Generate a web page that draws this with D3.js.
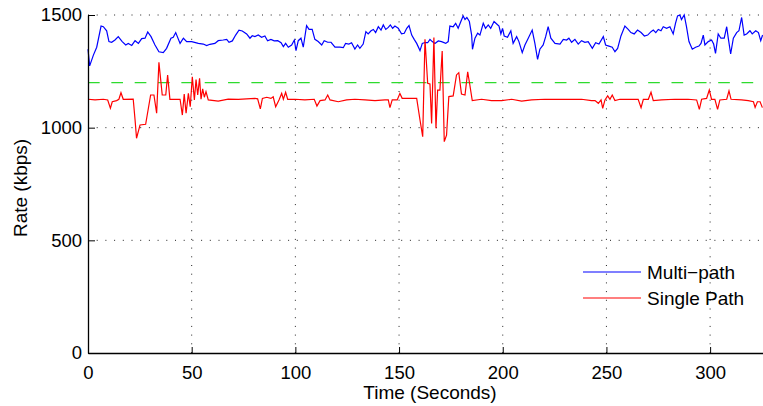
<!DOCTYPE html>
<html>
<head>
<meta charset="utf-8">
<script src="https://cdn.jsdelivr.net/npm/d3@7"></script>
<style>
  body { margin: 0; background: #fff; }
  text { font-family: "Liberation Sans", Arial, sans-serif; }
</style>
</head>
<body>
<script>
// chart size
var w = 763, h = 406;

// x ticks / y ticks
var xTicks = [0, 50, 100, 150, 200, 250, 300];
var yTicks = [0, 500, 1000, 1500];
var targetRate = 1200;

// Multi-path series (time in seconds, rate in kbps)
var multiTime = [0,0.8,2.6,4.2,6.3,7.4,9,10.1,11.4,13,14.6,16.5,18.2,19.4,21.1,22.7,24.3,25.9,27.5,28.8,30.4,32.3,34.2,36.3,37.9,40,41.1,42.3,44.4,46,47.6,50,53.2,55.6,57.2,58.8,61.2,62.8,65.2,66.9,68,69.6,71.2,72.8,74.4,76.5,78.1,79.2,80.5,82.1,83.7,85.3,86.6,88.2,89.8,91.5,93.1,94.2,95.3,96.6,98.2,99.5,100.3,101.4,102.7,103.8,105.4,106.6,108.1,109.4,111,112.7,113.9,115.6,117.2,119.1,121.5,123.1,124.2,125.8,127.1,128.7,130,131.1,132.7,134,135.1,136.5,137.6,138.7,140,141.3,142.4,143.6,144.8,145.8,146.9,148,149.6,151.2,152.5,153.7,154.8,156.1,157.3,158.5,160.1,161.2,162.5,163.8,164.9,166,167.3,168.9,170.5,172.5,173.7,174.5,176.1,177.3,178.5,179.8,180.9,181.8,182.7,183.9,185,185.4,186.6,187.9,189,190.6,191.7,193,194.2,195.8,197.1,198.2,199.1,199.9,200.7,202.3,203.9,205,206.7,207.8,209.4,210.7,212.3,214.2,215.5,216.8,217.9,219.5,220.7,221.9,223.2,225.2,227.6,229.2,230.8,231.9,233.2,234.8,236.4,238,239.6,241.2,243.2,244.8,246.4,248.5,249.6,251.2,252.8,254.1,255.4,257,258.9,260.5,261.8,263.4,265,266.7,268.3,269.9,271.5,272.6,273.8,275,276.3,277.4,279,280.6,282.2,283.3,284.3,285.4,286.2,287.5,288.6,289.8,291.4,293,294.6,295.6,296.7,297.5,299.1,300.7,301.7,302.6,303.9,305.2,306.8,308,308.7,309.9,311.2,312.8,313.9,315.2,316.4,317.6,319.2,320.3,322,323.3,324.4,325.3];
var multiRate = [1348,1274,1322,1357,1451,1448,1430,1382,1379,1389,1404,1382,1367,1374,1365,1386,1374,1395,1397,1425,1404,1367,1337,1333,1352,1397,1401,1422,1374,1397,1382,1382,1374,1371,1364,1370,1374,1386,1389,1392,1379,1385,1411,1433,1429,1416,1397,1408,1404,1411,1401,1407,1386,1392,1385,1386,1377,1360,1374,1357,1367,1389,1342,1386,1397,1357,1453,1436,1436,1392,1382,1367,1386,1379,1379,1357,1357,1355,1374,1371,1377,1349,1367,1352,1371,1426,1416,1430,1436,1422,1448,1433,1456,1436,1445,1456,1441,1451,1441,1416,1419,1441,1453,1411,1392,1374,1342,1374,1378,1377,1392,1382,1374,1385,1382,1374,1382,1451,1448,1463,1441,1471,1496,1480,1489,1471,1411,1348,1397,1419,1411,1463,1441,1456,1441,1471,1460,1451,1416,1441,1407,1401,1430,1374,1404,1382,1333,1367,1397,1433,1374,1303,1348,1367,1404,1448,1397,1374,1371,1392,1389,1397,1379,1392,1371,1386,1379,1382,1352,1377,1371,1404,1367,1362,1357,1337,1352,1407,1451,1436,1422,1416,1433,1422,1407,1411,1426,1433,1422,1436,1430,1448,1441,1448,1416,1463,1496,1500,1480,1500,1448,1382,1348,1357,1362,1374,1411,1367,1382,1389,1371,1330,1416,1397,1397,1448,1401,1327,1397,1422,1430,1489,1411,1416,1430,1416,1430,1422,1386,1411];

// Single path series
var singleTime = [0,3.4,7.4,9.5,10.8,11.7,13.8,14.9,15.9,17,21.8,22.7,23.4,25.1,27.8,30.2,31.8,33.1,34.2,35.8,37.5,38.4,39.5,44.4,45.5,46.4,47.3,48.4,49.3,50.3,51.3,52.1,52.9,53.8,54.5,55.3,56.1,56.9,58,62.8,67.6,72.5,80.5,81.8,83.1,84.1,86.2,88.2,89.3,90.5,92.1,93.4,94.2,95.3,96.3,99.8,104.6,109.1,110.4,111.9,114.3,115.6,116.7,120.7,124.7,128.7,133.6,138.4,143.2,144.8,145.6,146.7,149.1,150.4,151.5,158.5,160.1,161.4,162.5,163.8,164.9,165.7,166.8,167.8,168.6,169.7,170.8,171.8,172.9,174,176.1,177.7,178.8,180.1,181.8,183.1,184,185.3,189.8,194.6,199.5,204.3,209.1,213.9,220.3,226.7,233.2,238,242.8,244.5,246.1,247.4,248.2,249.3,250.6,251.7,252.8,254.1,256.5,260.5,265.3,266.7,267.8,270.2,271.5,272.6,276.6,283,289.4,293.5,294.8,295.9,298.3,299.6,300.7,302.3,303.6,304.7,308,309.1,310.1,315.2,318.4,320.9,321.7,322.8,324.1,325.2];
var singleRate = [1126,1123,1126,1123,1086,1115,1120,1126,1155,1126,1127,1034,953,1012,1015,1145,1145,1064,1290,1145,1145,1234,1126,1126,1056,1149,1064,1152,1093,1226,1123,1214,1145,1219,1126,1172,1135,1160,1123,1118,1127,1126,1130,1128,1083,1130,1135,1130,1137,1093,1123,1152,1126,1157,1126,1126,1123,1126,1096,1120,1123,1145,1123,1115,1123,1126,1123,1120,1123,1123,1089,1123,1123,1152,1130,1130,1034,960,1392,1197,1194,1019,1400,997,1167,1167,1340,938,967,1138,1141,1234,1244,1149,1145,1248,1197,1120,1126,1120,1120,1126,1118,1123,1126,1126,1126,1126,1120,1120,1108,1123,1086,1123,1141,1126,1145,1120,1126,1126,1126,1089,1126,1126,1157,1120,1123,1126,1126,1123,1081,1126,1130,1167,1126,1126,1081,1123,1126,1163,1126,1123,1120,1115,1090,1115,1115,1089];

var legendNames = ["Multi\u2212path", "Single Path"];
var colors = ["#0000ff", "#ff0000"];

// plot box edges in pixels
var pLeft = 88, pRight = 763, pTop = 15, pBottom = 353;

var svg = d3.select("body").append("svg")
    .attr("width", w)
    .attr("height", h)
    .style("background", "#fff");

var x = d3.scaleLinear().domain([0, 325.5]).range([pLeft, pRight]);
var y = d3.scaleLinear().domain([0, 1500]).range([pBottom, pTop]);

// dotted grid
svg.append("g").selectAll("line")
    .data(yTicks.filter(function(d){ return d > 0; }))
    .enter().append("line")
    .attr("x1", pLeft).attr("x2", pRight)
    .attr("y1", function(d){ return y(d); })
    .attr("y2", function(d){ return y(d); })
    .attr("stroke", "#222")
    .attr("stroke-dasharray", "1,7.7");
svg.append("g").selectAll("line")
    .data(xTicks.filter(function(d){ return d > 0; }))
    .enter().append("line")
    .attr("x1", function(d){ return x(d); })
    .attr("x2", function(d){ return x(d); })
    .attr("y1", pBottom).attr("y2", pTop)
    .attr("stroke", "#222")
    .attr("stroke-dasharray", "1,7.7");

// target rate line (green dashed)
svg.append("line")
    .attr("x1", pLeft).attr("x2", pRight)
    .attr("y1", y(targetRate)).attr("y2", y(targetRate))
    .attr("stroke", "#2edb2e")
    .attr("stroke-width", 1.2)
    .attr("stroke-dasharray", "11.67,11.67");

var line = d3.line()
    .x(function(d){ return x(d[0]); })
    .y(function(d){ return y(d[1]); });

var multiData = d3.zip(multiTime, multiRate);
var singleData = d3.zip(singleTime, singleRate);

svg.append("path")
    .datum(multiData)
    .attr("d", line)
    .attr("fill", "none")
    .attr("stroke", colors[0])
    .attr("stroke-width", 1.2);

svg.append("path")
    .datum(singleData)
    .attr("d", line)
    .attr("fill", "none")
    .attr("stroke", colors[1])
    .attr("stroke-width", 1.2);

// axes (ticks point inward, MATLAB style)
var xAxis = svg.append("g")
    .attr("transform", "translate(0," + pBottom + ")")
    .call(d3.axisBottom(x).tickValues(xTicks).tickFormat(d3.format("d"))
        .tickSizeInner(-6).tickSizeOuter(0).tickPadding(13));
var yAxis = svg.append("g")
    .attr("transform", "translate(" + pLeft + ",0)")
    .call(d3.axisLeft(y).tickValues(yTicks).tickFormat(d3.format("d"))
        .tickSizeInner(-7).tickSizeOuter(0).tickPadding(6));

[xAxis, yAxis].forEach(function(a){
    a.select(".domain").attr("stroke", "#000").attr("stroke-width", 1.3);
    a.selectAll(".tick line").attr("stroke", "#000");
    a.selectAll(".tick text")
        .style("font-family", "'Liberation Sans', Arial, sans-serif")
        .style("font-size", "18.5px")
        .attr("fill", "#000");
});

// axis labels
svg.append("text")
    .attr("x", 430).attr("y", 399)
    .attr("text-anchor", "middle")
    .style("font-size", "19px")
    .text("Time (Seconds)");

svg.append("text")
    .attr("transform", "translate(27,188) rotate(-90)")
    .attr("text-anchor", "middle")
    .style("font-size", "19px")
    .text("Rate (kbps)");

// legend
var legend = svg.append("g");
legendNames.forEach(function(name, i){
    var ly = 272 + i * 26;
    legend.append("line")
        .attr("x1", 583).attr("x2", 641)
        .attr("y1", ly).attr("y2", ly)
        .attr("stroke", colors[i])
        .attr("stroke-width", 1.2);
    legend.append("text")
        .attr("x", 647).attr("y", ly)
        .attr("dy", "0.36em")
        .style("font-size", "19px")
        .text(name);
});
</script>
</body>
</html>
